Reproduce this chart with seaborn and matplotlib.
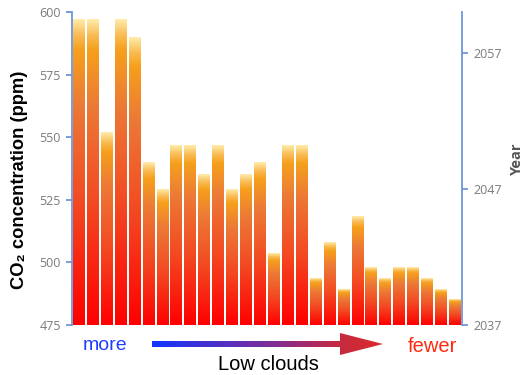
import numpy as np
import matplotlib
matplotlib.use("Agg")
import matplotlib.pyplot as plt
from matplotlib.colors import LinearSegmentedColormap
from matplotlib.path import Path
from matplotlib.patches import PathPatch
import seaborn as sns
import pandas as pd

# CO2 concentration reached in each model run, ordered from more to fewer low clouds
co2_ppm = [597, 597, 552, 597, 590, 540, 529, 546.5, 546.5, 535,
           546.5, 529, 535, 540, 503.5, 546.5, 546.5, 493.5, 508, 489,
           518.5, 498, 493.5, 498, 498, 493.5, 489, 485]
run_index = list(range(len(co2_ppm)))

ppm_ticks = [475, 500, 525, 550, 575, 600]
year_ticks = [2037, 2047, 2057]
year_range = (2037, 2060)

sns.set_theme(style="white")
plt.rcParams["font.family"] = ["Liberation Sans", "DejaVu Sans"]

SPINE = "#6F95DA"
TICKTXT = "#7A7A7A"

fig = plt.figure(figsize=(5.24, 3.75), dpi=100)
ax = fig.add_axes([72 / 524, 1 - 325 / 375, 390 / 524, 313 / 375])

df = pd.DataFrame({"run": run_index, "co2": co2_ppm})
sns.barplot(data=df, x="run", y="co2", width=0.86, color="white",
            linewidth=0, ax=ax)

ymin, ymax = ppm_ticks[0], ppm_ticks[-1]

# vertical gradient inside every bar: red base, orange body, pale top
bar_cmap = LinearSegmentedColormap.from_list("bar", [
    (0.00, "#FF0000"),
    (0.40, "#F34A22"),
    (0.72, "#EC7A36"),
    (0.90, "#F6A01C"),
    (0.95, "#F9BC55"),
    (1.00, "#FFEBAA"),
])
grad = np.linspace(0, 1, 256).reshape(-1, 1)
for p in ax.patches:
    x0 = p.get_x()
    w = p.get_width()
    top = p.get_y() + p.get_height()
    p.set_facecolor("none")
    ax.imshow(grad, cmap=bar_cmap, origin="lower", aspect="auto",
              extent=(x0, x0 + w, ymin, top), interpolation="bilinear",
              zorder=2)

ax.set_xlim(-0.5, len(co2_ppm) - 0.5)
ax.set_ylim(ymin, ymax)
ax.set_yticks(ppm_ticks)
ax.set_xticks([])
ax.set_xlabel("")
ax.set_ylabel("")
for s in ["top", "bottom", "right"]:
    ax.spines[s].set_visible(False)
ax.spines["left"].set_color(SPINE)
ax.spines["left"].set_linewidth(1.3)
ax.tick_params(axis="y", which="major", direction="out", length=4, width=1.3,
               color=SPINE, labelcolor=TICKTXT, labelsize=9, pad=4, left=True)
for t in ax.get_yticklabels():
    t.set_fontfamily(["Open Sans", "DejaVu Sans"])

# secondary axis: year at which the concentration is reached
ax2 = ax.twinx()
ax2.set_ylim(*year_range)
ax2.set_yticks(year_ticks)
for s in ["top", "bottom", "left"]:
    ax2.spines[s].set_visible(False)
ax2.spines["right"].set_color(SPINE)
ax2.spines["right"].set_linewidth(1.3)
ax2.tick_params(axis="y", direction="out", length=4, width=1.3, color=SPINE,
                labelcolor=TICKTXT, labelsize=9, pad=4, right=True)
for t in ax2.get_yticklabels():
    t.set_fontfamily(["Open Sans", "DejaVu Sans"])
ax2.grid(False)
ax.grid(False)

fig.text(20 / 524, 1 - 180 / 375, "CO\u2082 concentration (ppm)", rotation=90,
         ha="center", va="center", fontsize=13.2, fontweight="bold",
         color="black")
fig.text(517 / 524, 1 - 159 / 375, "Year", rotation=90, ha="center",
         va="center", fontsize=10.5, fontweight="bold", color="#555555",
         family=["Open Sans", "DejaVu Sans"])

# annotation strip below the bars
ov = fig.add_axes([0, 0, 1, 1], facecolor="none")
ov.set_xlim(0, 524)
ov.set_ylim(375, 0)
ov.axis("off")

ov.text(105.5, 346, "more", ha="center", va="center", fontsize=14,
        color="#1F3DFF")
ov.text(432, 346, "fewer", ha="center", va="center", fontsize=14.5,
        color="#FF2A10")
ov.text(268, 365, "Low clouds", ha="center", va="center", fontsize=14.5,
        color="black")

arrow_x0, head_x0, arrow_x1 = 152, 340, 383
yc = 344
verts = [(arrow_x0, yc - 3), (head_x0, yc - 3), (head_x0, yc - 11),
         (arrow_x1, yc), (head_x0, yc + 11), (head_x0, yc + 3),
         (arrow_x0, yc + 3), (arrow_x0, yc - 3)]
codes = [Path.MOVETO] + [Path.LINETO] * 6 + [Path.CLOSEPOLY]
arrow_patch = PathPatch(Path(verts, codes), facecolor="none", edgecolor="none")
ov.add_patch(arrow_patch)
arrow_cmap = LinearSegmentedColormap.from_list(
    "arrow", [(0.0, "#1234FF"), (0.5, "#7A2E9C"), (0.8, "#C42A42"),
              (1.0, "#DD2A28")])
hgrad = np.linspace(0, 1, 256).reshape(1, -1)
im = ov.imshow(hgrad, cmap=arrow_cmap, aspect="auto",
               extent=(arrow_x0, arrow_x1, yc + 12, yc - 12),
               interpolation="bilinear")
im.set_clip_path(arrow_patch)
ov.set_xlim(0, 524)
ov.set_ylim(375, 0)

fig.savefig("out.png", dpi=100)
